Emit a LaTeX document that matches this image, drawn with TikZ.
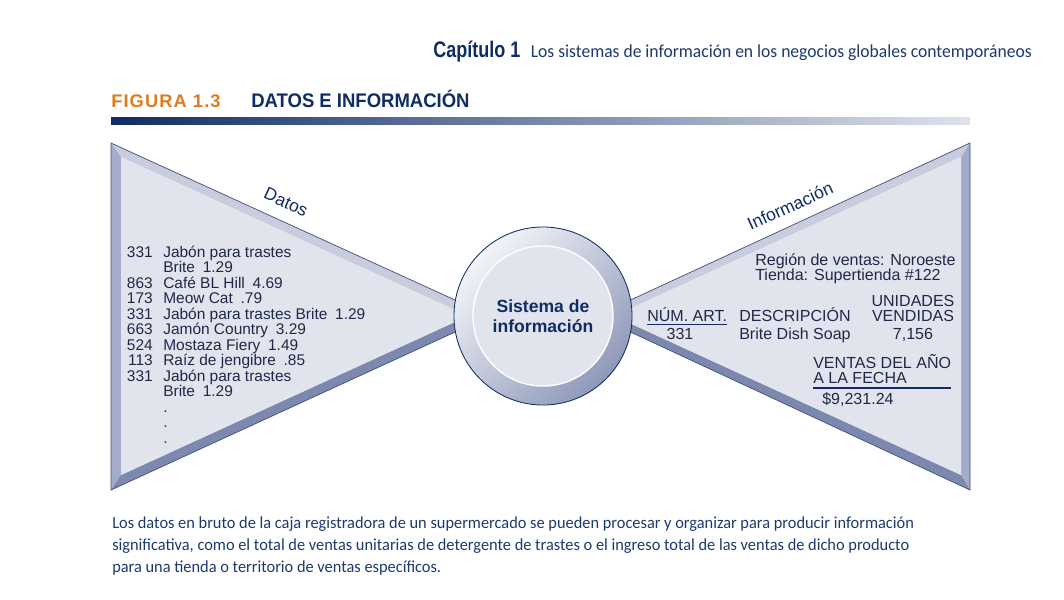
\documentclass[tikz,border=0pt]{standalone}
\usepackage{fontspec}
\setmainfont{Liberation Sans}
\newfontfamily\capfont[FakeStretch=0.97]{Carlito}
\newfontfamily\hdrfont[FakeStretch=0.96]{Carlito}
\newfontfamily\condfont[FakeStretch=0.8]{Liberation Sans}
\newfontfamily\titlefont[FakeStretch=0.94]{Liberation Sans}
\newfontfamily\figfont[LetterSpace=6]{Liberation Sans}
\usepackage{xcolor}
\usetikzlibrary{positioning}

\definecolor{navy}{HTML}{0F2C64}
\definecolor{ink}{HTML}{1F2A48}
\definecolor{capcol}{HTML}{1D3A6E}
\definecolor{figorange}{HTML}{E07A1F}
\definecolor{face}{HTML}{E1E3ED}
\definecolor{bevtop}{HTML}{C8CCDD}
\definecolor{bevside}{HTML}{A4ACC9}
\definecolor{bevbot}{HTML}{7C88AE}
\definecolor{edge}{HTML}{42507A}
\definecolor{ringlight}{HTML}{F3F4F8}
\definecolor{ringdark}{HTML}{8E99BA}
\definecolor{barmid}{HTML}{5B6E9A}
\definecolor{barend}{HTML}{DFE2EC}

\begin{document}
\begin{tikzpicture}[x=0.025cm, y=-0.025cm,
  every node/.style={inner sep=0pt, text=ink},
  ln/.style={anchor=base west, font=\fontsize{11}{12}\selectfont},
  lnr/.style={anchor=base east, font=\fontsize{11}{12}\selectfont},
  rn/.style={anchor=base west, font=\fontsize{11.4}{12}\selectfont},
  rnc/.style={anchor=base, font=\fontsize{11.4}{12}\selectfont},
  captxt/.style={anchor=base west, text=capcol, font=\capfont\fontsize{12}{14}\selectfont},
  wedgelbl/.style={text=navy, font=\fontsize{12.5}{14}\selectfont},
  rule/.style={draw=navy, line width=1.3pt}]
  \fill[white] (0,0) rectangle (1064,599);
  \useasboundingbox (0,0) rectangle (1064,599);

  % page header
  \node[anchor=base east, text=capcol, font=\hdrfont\fontsize{13}{15}\selectfont] (hdr) at (1032,57)
    {Los sistemas de información en los negocios globales contemporáneos};
  \node[base left=7pt of hdr, text=navy, font=\condfont\bfseries\fontsize{16}{18}\selectfont] (chap) {Capítulo 1};

  % figure title
  \node[anchor=base west, text=figorange, font=\figfont\bfseries\fontsize{13}{15}\selectfont] (fig) at (111,107) {FIGURA 1.3};
  \node[anchor=base west, text=navy, font=\titlefont\bfseries\fontsize{14}{16}\selectfont] (title) at (251,107) {DATOS E INFORMACIÓN};
  \shade[left color=navy, middle color=barmid, right color=barend] (111,117) rectangle (970,124);

  % left wedge
  \coordinate (lA) at (111,143); \coordinate (lB) at (111,490); \coordinate (lC) at (490,316);
  \coordinate (la) at (121,157); \coordinate (lb) at (121,475); \coordinate (lc) at (468,316);
  \fill[bevtop] (lA) -- (lC) -- (lc) -- (la) -- cycle;
  \fill[bevside] (lA) -- (la) -- (lb) -- (lB) -- cycle;
  \fill[bevbot] (lB) -- (lb) -- (lc) -- (lC) -- cycle;
  \fill[face] (la) -- (lb) -- (lc) -- cycle;
  \draw[edge, line width=0.5pt] (lA) -- (lC) -- (lB) -- cycle;

  % right wedge
  \coordinate (rA) at (970,143); \coordinate (rB) at (970,490); \coordinate (rC) at (596,316);
  \coordinate (ra) at (961,157); \coordinate (rb) at (961,475); \coordinate (rc) at (614,316);
  \fill[bevtop] (rA) -- (rC) -- (rc) -- (ra) -- cycle;
  \fill[bevside] (rA) -- (ra) -- (rb) -- (rB) -- cycle;
  \fill[bevbot] (rB) -- (rb) -- (rc) -- (rC) -- cycle;
  \fill[face] (ra) -- (rb) -- (rc) -- cycle;
  \draw[edge, line width=0.5pt] (rA) -- (rC) -- (rB) -- cycle;

  % the system in the middle
  \node[circle, draw=navy, line width=0.6pt, minimum size=4.45cm,
        top color=ringlight, bottom color=ringdark, shading angle=45] (sys) at (543,316) {};
  \node[circle, fill=face, draw=white, line width=1pt, minimum size=3.5cm, align=center,
        text=navy, font=\bfseries\fontsize{12.5}{14}\selectfont] (sysin) at (sys.center) {Sistema de\\información};

  \node[wedgelbl, rotate=-24.6] (datoslbl) at (286,202) {Datos};
  \node[wedgelbl, rotate=24.6] (infolbl) at (790,206) {Información};

  % raw register data
  \foreach \i/\num/\item in {0/331/{Jabón para trastes}, 1/{}/{Brite\enspace1.29},
      2/863/{Café BL Hill\enspace4.69}, 3/173/{Meow Cat\enspace.79},
      4/331/{Jabón para trastes Brite\enspace1.29}, 5/663/{Jamón Country\enspace3.29},
      6/524/{Mostaza Fiery\enspace1.49}, 7/113/{Raíz de jengibre\enspace.85},
      8/331/{Jabón para trastes}, 9/{}/{Brite\enspace1.29},
      10/{}/{.}, 11/{}/{.}, 12/{}/{.}} {
    \node[lnr] (num\i) at (153, 257+15.5*\i) {\num};
    \node[ln] (item\i) at (163, 257+15.5*\i) {\item};
  }

  % processed information
  \node[rn] (region) at (755,265) {Región de ventas: Noroeste};
  \node[rn] (tienda) at (755,280) {Tienda: Supertienda \#122};
  \node[rnc] (unid) at (913,306) {UNIDADES};
  \node[rnc] (vend) at (913,321) {VENDIDAS};
  \node[rn] (numart) at (647,321) {NÚM. ART.};
  \node[rn] (descr) at (739,321) {DESCRIPCIÓN};
  \node[rnc] (artval) at (680,339) {331};
  \node[rn] (descval) at (739,339) {Brite Dish Soap};
  \node[rnc] (vendval) at (913,339) {7,156};
  \node[rn] (ventas) at (813,368) {VENTAS DEL AÑO};
  \node[rn] (fecha) at (813,383) {A LA FECHA};
  \node[rn] (total) at (822,404) {\$9,231.24};
  \draw[rule] ([yshift=-2.5pt]numart.base west) -- ([yshift=-2.5pt]numart.base east);
  \coordinate[below=3.5pt of fecha.base west] (r1);
  \draw[rule] (r1) -- (r1 -| ventas.east);

  % caption
  \node[captxt] (cap1) at (112,528) {Los datos en bruto de la caja registradora de un supermercado se pueden procesar y organizar para producir información};
  \node[captxt] (cap2) at (112,550) {significativa, como el total de ventas unitarias de detergente de trastes o el ingreso total de las ventas de dicho producto};
  \node[captxt] (cap3) at (112,572) {para una tienda o territorio de ventas específicos.};
\end{tikzpicture}
\end{document}
